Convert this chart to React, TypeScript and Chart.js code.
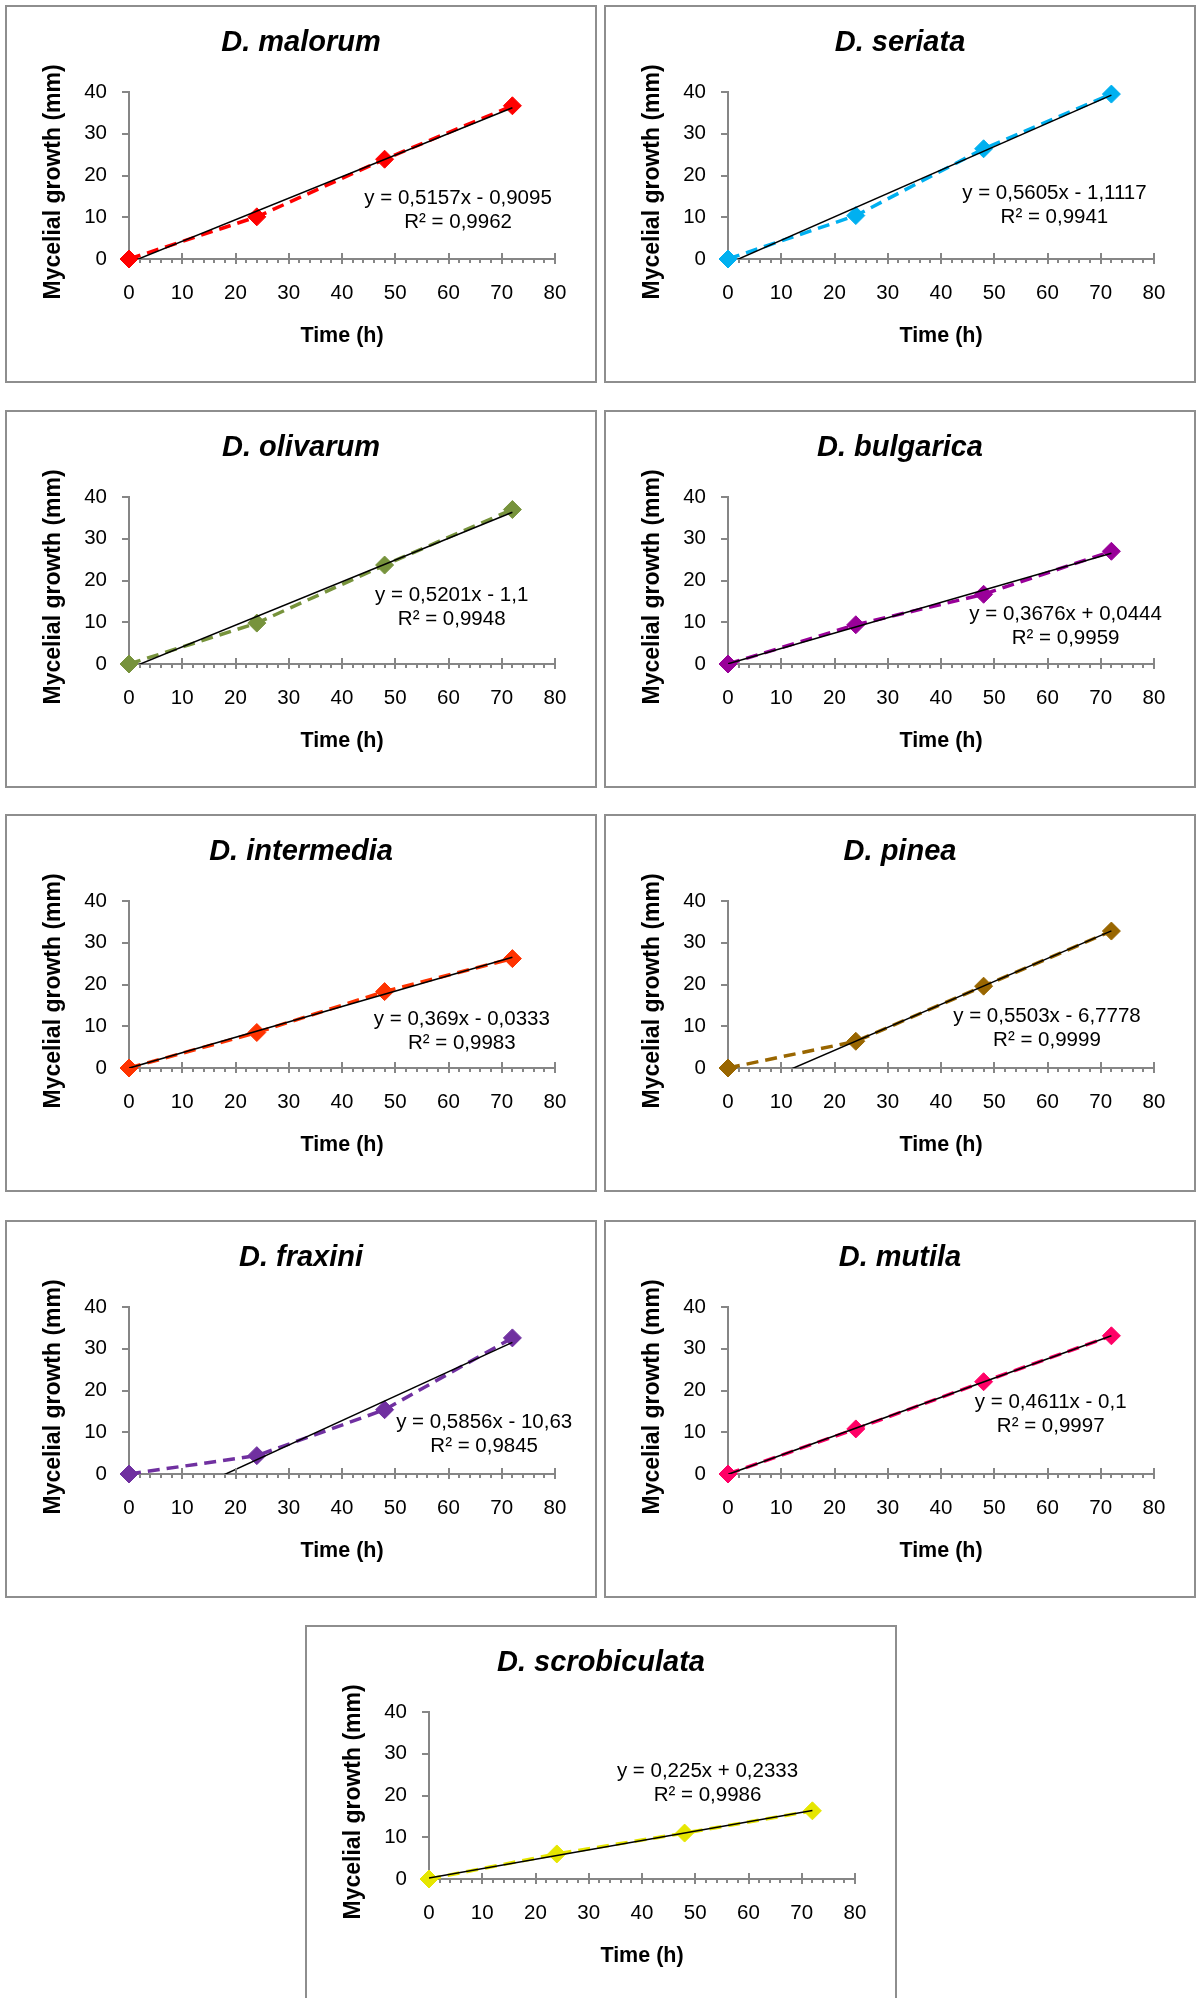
import React, { useEffect, useRef } from "react";
import { Chart, registerables } from "chart.js";

Chart.register(...registerables);

const FONT_FAMILY = '"Liberation Sans", Arial, Helvetica, sans-serif';

// ---------------- data ----------------
const timeHours = [0, 24, 48, 72];

const speciesNames = [
  "D. malorum",
  "D. seriata",
  "D. olivarum",
  "D. bulgarica",
  "D. intermedia",
  "D. pinea",
  "D. fraxini",
  "D. mutila",
  "D. scrobiculata",
];

const growthMalorum = [0, 10.1, 23.9, 36.7];
const growthSeriata = [0, 10.4, 26.4, 39.5];
const growthOlivarum = [0, 9.8, 23.7, 37.0];
const growthBulgarica = [0, 9.4, 16.7, 27.0];
const growthIntermedia = [0, 8.5, 18.3, 26.2];
const growthPinea = [0, 6.4, 19.6, 32.8];
const growthFraxini = [0, 4.4, 15.4, 32.6];
const growthMutila = [0, 10.8, 22.1, 33.1];
const growthScrobiculata = [0, 6.0, 11.0, 16.33];

const trendSlopes = [0.5157, 0.5605, 0.5201, 0.3676, 0.369, 0.5503, 0.5856, 0.4611, 0.225];
const trendIntercepts = [-0.9095, -1.1117, -1.1, 0.0444, -0.0333, -6.7778, -10.63, -0.1, 0.2333];

const equationTexts = [
  "y = 0,5157x - 0,9095",
  "y = 0,5605x - 1,1117",
  "y = 0,5201x - 1,1",
  "y = 0,3676x + 0,0444",
  "y = 0,369x - 0,0333",
  "y = 0,5503x - 6,7778",
  "y = 0,5856x - 10,63",
  "y = 0,4611x - 0,1",
  "y = 0,225x + 0,2333",
];
const r2Texts = [
  "R² = 0,9962",
  "R² = 0,9941",
  "R² = 0,9948",
  "R² = 0,9959",
  "R² = 0,9983",
  "R² = 0,9999",
  "R² = 0,9845",
  "R² = 0,9997",
  "R² = 0,9986",
];

const xAxisTitle = "Time (h)";
const yAxisTitle = "Mycelial growth (mm)";
const xAxisMin = 0;
const xAxisMax = 80;
const xMajorStep = 10;
const xMinorStep = 2;
const yAxisMin = 0;
const yAxisMax = 40;
const yMajorStep = 10;

const seriesValues = [
  growthMalorum,
  growthSeriata,
  growthOlivarum,
  growthBulgarica,
  growthIntermedia,
  growthPinea,
  growthFraxini,
  growthMutila,
  growthScrobiculata,
];

// ---------------- layout / style (not data) ----------------
const PANEL_W = 592;
const PANEL_H = 378;
const BORDER = 2;
const CANVAS_W = PANEL_W - 2 * BORDER;
const CANVAS_H = PANEL_H - 2 * BORDER;
const AXIS_COLOR = "#868686";
const SIDE_PAD = 40;
const TEXT_SIZE = 20.5;
const Y_TITLE_SIZE = 23;

const panelOrigins = [
  [5, 5],
  [604, 5],
  [5, 410],
  [604, 410],
  [5, 814],
  [604, 814],
  [5, 1220],
  [604, 1220],
  [305, 1625],
];

// equation label centre, in data coordinates of each panel
const labelAnchors = [
  [61.8, 11.7],
  [61.3, 12.9],
  [60.6, 13.6],
  [63.4, 9.0],
  [62.5, 8.7],
  [59.9, 9.5],
  [66.7, 9.6],
  [60.6, 14.2],
  [52.3, 22.9],
];

const seriesColors = [
  "#FF0000",
  "#00B0F0",
  "#77933C",
  "#990099",
  "#FF3300",
  "#996600",
  "#7030A0",
  "#FF0066",
  "#E6E600",
];

function GrowthPanel({ index }: { index: number }) {
  const canvasRef = useRef<HTMLCanvasElement | null>(null);

  useEffect(() => {
    const canvas = canvasRef.current;
    if (!canvas) return;
    const color = seriesColors[index];
    const values = seriesValues[index];
    const slope = trendSlopes[index];
    const intercept = trendIntercepts[index];
    const tStart = timeHours[0];
    const tEnd = timeHours[timeHours.length - 1];

    const decorPlugin = {
      id: "panelDecor",
      afterDraw(chart: any) {
        const ctx = chart.ctx;
        const xs = chart.scales.x;
        const ys = chart.scales.y;
        const y0 = ys.getPixelForValue(yAxisMin);
        const align = (p: number) => Math.round(p - 1) + 1;
        ctx.save();
        ctx.strokeStyle = AXIS_COLOR;
        ctx.lineWidth = 2;
        ctx.beginPath();
        for (let v = xAxisMin + xMinorStep; v <= xAxisMax; v += xMinorStep) {
          const px = align(xs.getPixelForValue(v));
          if (v % xMajorStep === 0) {
            ctx.moveTo(px, y0 - 6);
            ctx.lineTo(px, y0);
          } else {
            ctx.moveTo(px, y0);
            ctx.lineTo(px, y0 + 4);
          }
        }
        ctx.stroke();

        const [ax, ay] = labelAnchors[index];
        const cx = xs.getPixelForValue(ax);
        const cy = ys.getPixelForValue(ay);
        ctx.fillStyle = "#000";
        ctx.font = `${TEXT_SIZE}px ${FONT_FAMILY}`;
        ctx.textAlign = "center";
        ctx.textBaseline = "middle";
        ctx.fillText(equationTexts[index], cx, cy - 12);
        ctx.fillText(r2Texts[index], cx, cy + 12);
        ctx.restore();
      },
    };

    const chart = new Chart(canvas, {
      type: "scatter",
      data: {
        datasets: [
          {
            label: "Linear trend",
            data: [
              { x: tStart, y: slope * tStart + intercept },
              { x: tEnd, y: slope * tEnd + intercept },
            ],
            showLine: true,
            borderColor: "#000000",
            borderWidth: 1.5,
            pointRadius: 0,
            fill: false,
            order: 0,
          },
          {
            label: speciesNames[index],
            data: timeHours.map((t, i) => ({ x: t, y: values[i] })),
            showLine: true,
            borderColor: color,
            backgroundColor: color,
            borderWidth: 3.5,
            borderDash: [12, 7],
            pointStyle: "rectRot",
            pointRadius: 9,
            pointBackgroundColor: color,
            pointBorderColor: color,
            pointBorderWidth: 1,
            fill: false,
            clip: false,
            order: 1,
          },
        ],
      },
      options: {
        responsive: false,
        maintainAspectRatio: false,
        animation: false,
        devicePixelRatio: 1,
        events: [],
        layout: { padding: { left: SIDE_PAD, right: SIDE_PAD, top: 0, bottom: 0 } },
        plugins: {
          legend: { display: false },
          tooltip: { enabled: false },
          title: {
            display: true,
            text: speciesNames[index],
            color: "#000",
            font: { family: FONT_FAMILY, size: 29, weight: "bold", style: "italic" },
            padding: { top: 18.5, bottom: 31.7 },
          },
        },
        scales: {
          x: {
            type: "linear",
            position: "bottom",
            min: xAxisMin,
            max: xAxisMax,
            ticks: {
              stepSize: xMajorStep,
              autoSkip: false,
              maxRotation: 0,
              color: "#000",
              font: { family: FONT_FAMILY, size: TEXT_SIZE },
              padding: 17,
            },
            grid: {
              drawOnChartArea: false,
              drawTicks: true,
              tickLength: 5,
              color: AXIS_COLOR,
              lineWidth: 2,
            },
            border: { display: true, color: AXIS_COLOR, width: 2 },
            title: {
              display: true,
              text: xAxisTitle,
              color: "#000",
              font: { family: FONT_FAMILY, size: 21.5, weight: "bold" },
              padding: { top: 0, bottom: 31.7 },
            },
            afterFit: (s: any) => {
              s.height = 122;
            },
          },
          y: {
            type: "linear",
            min: yAxisMin,
            max: yAxisMax,
            ticks: {
              stepSize: yMajorStep,
              color: "#000",
              font: { family: FONT_FAMILY, size: TEXT_SIZE },
              padding: 15,
            },
            grid: {
              drawOnChartArea: false,
              drawTicks: true,
              tickLength: 7,
              color: AXIS_COLOR,
              lineWidth: 2,
            },
            border: { display: true, color: AXIS_COLOR, width: 2 },
            title: {
              display: true,
              text: yAxisTitle + "  ",
              color: "#000",
              font: { family: FONT_FAMILY, size: Y_TITLE_SIZE, weight: "bold" },
              padding: { top: 47 - (Y_TITLE_SIZE * 1.2) / 2 - SIDE_PAD, bottom: 0 },
            },
            afterFit: (s: any) => {
              s.width = 122 - SIDE_PAD;
            },
          },
        },
      } as any,
      plugins: [decorPlugin],
    } as any);

    return () => chart.destroy();
  }, [index]);

  const [left, top] = panelOrigins[index];
  return (
    <div
      style={{
        position: "absolute",
        left,
        top,
        width: PANEL_W,
        height: PANEL_H,
        border: `${BORDER}px solid #8e8e8e`,
        boxSizing: "border-box",
        background: "#ffffff",
      }}
    >
      <canvas
        ref={canvasRef}
        width={CANVAS_W}
        height={CANVAS_H}
        style={{ display: "block", width: CANVAS_W, height: CANVAS_H }}
      />
    </div>
  );
}

export default function App() {
  return (
    <div
      style={{
        position: "absolute",
        left: 0,
        top: 0,
        width: 1198,
        height: 1998,
        overflow: "hidden",
        background: "#ffffff",
      }}
    >
      {speciesNames.map((_, i) => (
        <GrowthPanel key={i} index={i} />
      ))}
    </div>
  );
}
